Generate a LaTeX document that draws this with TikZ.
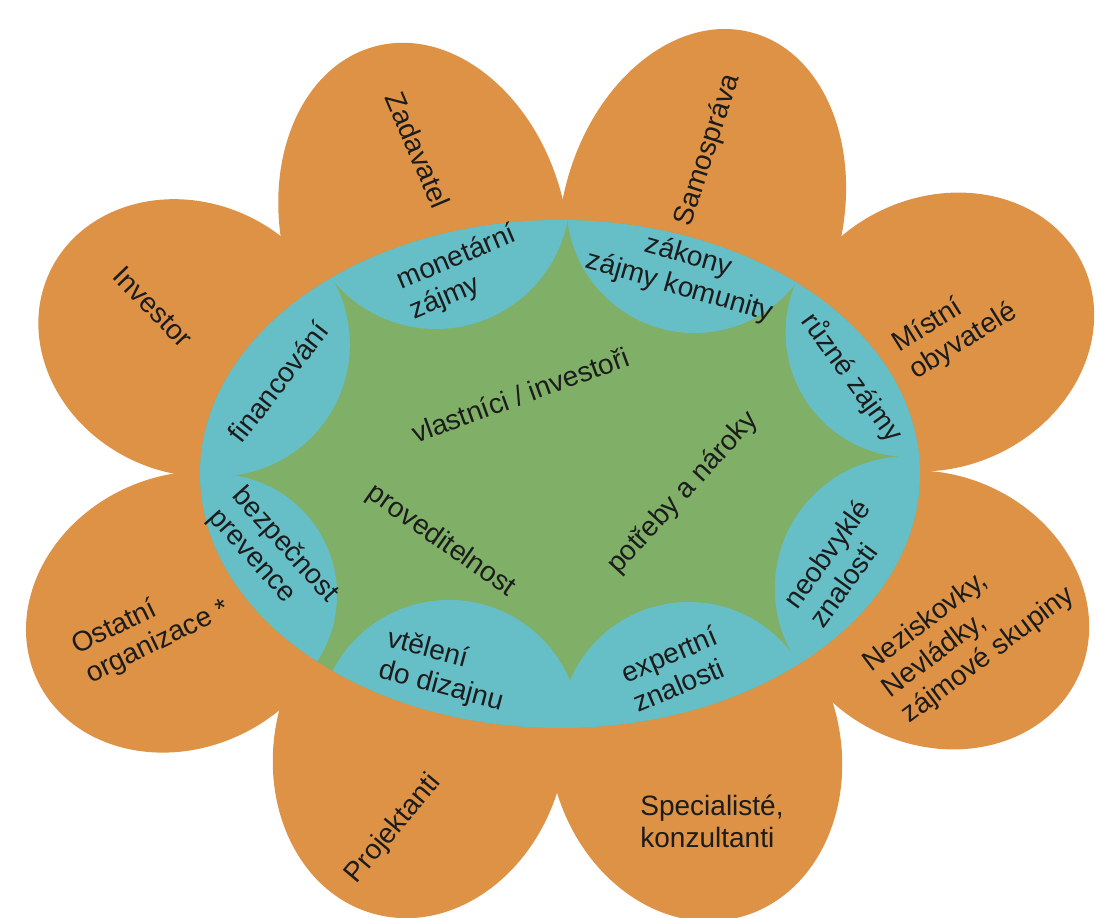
\documentclass[tikz,border=0pt]{standalone}
\usepackage{fontspec}
\setmainfont{Liberation Sans}

\definecolor{petal}{RGB}{221,146,70}
\definecolor{lens}{RGB}{102,190,198}
\definecolor{core}{RGB}{128,176,104}
\definecolor{ink}{RGB}{28,28,28}

\tikzset{
  lbl/.style={text=ink, font=\fontsize{28}{32}\selectfont, inner sep=0pt},
  lbll/.style={lbl, align=left},
  lblc/.style={lbl, align=center}
}

\begin{document}
\begin{tikzpicture}[x=1pt,y=1pt]
          \useasboundingbox (0,0) rectangle (1098,918);

          % petals
          \foreach \cx/\cy/\ra/\rb/\ang in {424/688/190/142/105, 702/700/192/140/75,
                    940/586/158/135/25, 935/308/158/135/-25,
                    695/170/175/145/-75, 420/173/175/145/255,
                    182/306/160/136/205, 190/580/155/135/155}
            \fill[petal, rotate around={\ang:(\cx,\cy)}] (\cx,\cy) ellipse [x radius=\ra, y radius=\rb];

          % centre
          \fill[core] (560,444) ellipse [x radius=360, y radius=254];
          \begin{scope}
            \clip (560,444) ellipse [x radius=360, y radius=254];
            \foreach \cx/\cy/\r in {436/723/134, 694.5/713/128, 910.6/585.7/125,
                      906.8/329.5/132, 688.7/187/129, 449/187/131,
                      216/323/121, 217.8/573.7/132}
              \fill[lens] (\cx,\cy) circle [radius=\r];
          \end{scope}

          % outer labels
          \node[lbl, rotate=-67] (zadavatel) at (418,768) {Zadavatel};
          \node[lbl, rotate=72] (samosprava) at (708,768) {Samospráva};
          \node[lbl, rotate=-46] (investor) at (153,611) {Investor};
          \node[lbll, rotate=32] (obyvatele) at (955,590) {Místní\\obyvatelé};
          \node[lbll, rotate=26] (ostatni) at (151,290) {Ostatní\\organizace *};
          \node[lbll, rotate=37] (neziskovky) at (969,288) {Neziskovky,\\Nevládky,\\zájmové skupiny};
          \node[lbl, rotate=50] (projektanti) at (393,89) {Projektanti};
          \node[lbll] (specialiste) at (712,97) {Specialisté,\\konzultanti};

          % inner labels
          \node[lbll, rotate=23] (monetarni) at (463,645) {monetární\\zájmy};
          \node[lblc, rotate=-16] (zakony) at (684,646) {zákony\\zájmy komunity};
          \node[lbl, rotate=-54] (ruzne) at (852,540) {různé zájmy};
          \node[lbll, rotate=54] (neobvykle) at (839,355) {neobvyklé\\znalosti};
          \node[lbll, rotate=23] (expertni) at (675,249) {expertní\\znalosti};
          \node[lbll, rotate=-15] (vteleni) at (445,247) {vtělení\\do dizajnu};
          \node[lbll, rotate=-48] (bezpecnost) at (273,362) {bezpečnost\\prevence};
          \node[lbl, rotate=52] (financovani) at (278,536) {financování};

          % core labels
          \node[lbl, rotate=20] (vlastnici) at (520,523) {vlastníci / investoři};
          \node[lbl, rotate=47.5] (potreby) at (683,425) {potřeby a nároky};
          \node[lbl, rotate=-35] (proveditelnost) at (441,377) {proveditelnost};
\end{tikzpicture}
\end{document}
